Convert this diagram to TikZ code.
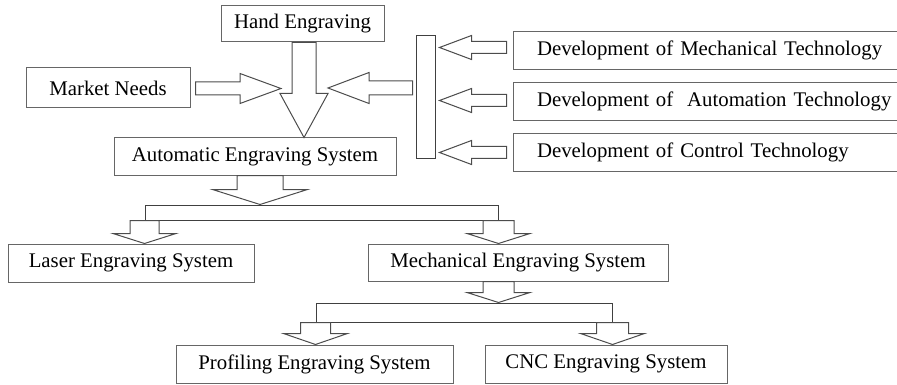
\documentclass[tikz,border=0pt]{standalone}
\usepackage{fontspec}
\setmainfont{Liberation Serif}
\usetikzlibrary{calc}

% block arrow going down from #1 to the height of #2
\newcommand{\downarr}[5]{%
  \draw[blk] let \p1=(#1), \p2=(#2) in
    ({\x1-#3*0.75pt},\y1) -- ({\x1-#3*0.75pt},{\y2-#5*0.75pt}) -- ({\x1-#4*0.75pt},{\y2-#5*0.75pt}) -- (\x1,\y2)
    -- ({\x1+#4*0.75pt},{\y2-#5*0.75pt}) -- ({\x1+#3*0.75pt},{\y2-#5*0.75pt}) -- ({\x1+#3*0.75pt},\y1) -- cycle;}
% block arrow going sideways from #1 to #2 (head length signed)
\newcommand{\sidearr}[5]{%
  \draw[blk] let \p1=(#1), \p2=(#2) in
    (\x1,{\y2-#3*0.75pt}) -- ({\x2-#5*0.75pt},{\y2-#3*0.75pt}) -- ({\x2-#5*0.75pt},{\y2-#4*0.75pt}) -- (\x2,\y2)
    -- ({\x2-#5*0.75pt},{\y2+#4*0.75pt}) -- ({\x2-#5*0.75pt},{\y2+#3*0.75pt}) -- (\x1,{\y2+#3*0.75pt}) -- cycle;}

\begin{document}
\begin{tikzpicture}[x=0.75pt,y=0.75pt,yscale=-1,xscale=1,
    box/.style={draw=black!60, line width=0.75pt, inner sep=0pt, font=\fontsize{15.6}{18}\selectfont},
    devbox/.style={box, inner xsep=18pt, text width=300pt, align=left, minimum height=38*0.75pt},
    barbox/.style={draw=black!75, line width=0.75pt, inner sep=0pt},
    blk/.style={draw=black!70, line width=0.75pt, line join=miter}]
\useasboundingbox (0,0) rectangle (897,385);
\clip (0,0) rectangle (897,385);

\node[box, minimum width=163*0.75pt, minimum height=36*0.75pt] (hand) at (302.5,24) {Hand Engraving};
\node[box, minimum width=164*0.75pt, minimum height=40*0.75pt] (market) at (108,88) {Market Needs};
\node[box, minimum width=282*0.75pt, minimum height=37*0.75pt] (auto) at (255,156.5) {Automatic Engraving System};
\node[barbox, minimum width=19*0.75pt, minimum height=123*0.75pt] (bar) at (425.5,97.5) {};
\node[devbox] (dev1) at (737,50.5) {Development of Mechanical Technology};
\node[devbox] (dev2) at (737,101.5) {Development of\ \ Automation Technology};
\node[devbox] (dev3) at (737,152.5) {Development of Control Technology};
\node[barbox, minimum width=353*0.75pt, minimum height=15*0.75pt] (hbar1) at (321.5,212.5) {};
\node[box, minimum width=246*0.75pt, minimum height=38*0.75pt] (laser) at (131,263) {Laser Engraving System};
\node[box, minimum width=300*0.75pt, minimum height=37*0.75pt] (mech) at (518,262.5) {Mechanical Engraving System};
\node[barbox, minimum width=296*0.75pt, minimum height=19*0.75pt] (hbar2) at (464,312.5) {};
\node[box, minimum width=277*0.75pt, minimum height=38*0.75pt] (prof) at (314.5,364) {Profiling Engraving System};
\node[box, minimum width=242*0.75pt, minimum height=38*0.75pt] (cnc) at (606,364) {CNC Engraving System};

\coordinate (tipL) at (281,88.5);
\coordinate (tipR) at (328,88);
\coordinate (barin) at ($(bar.west |- tipR)+(-3,0)$);
\coordinate (tip1) at ($(bar.east |- dev1.west)+(4,-3)$);
\coordinate (tip2) at ($(bar.east |- dev2.west)+(4,-1)$);
\coordinate (tip3) at ($(bar.east |- dev3.west)+(4,0)$);

\downarr{[xshift=1.125pt]hand.south}{auto.north}{12}{24}{44}
\sidearr{[xshift=3.75pt]market.east}{tipL}{6.5}{15}{41}
\sidearr{barin}{tipR}{7}{15.5}{-41}
\sidearr{[xshift=-4.5pt]dev1.west}{tip1}{6}{12}{-32}
\sidearr{[xshift=-4.5pt]dev2.west}{tip2}{6}{12}{-32}
\sidearr{[xshift=-4.5pt]dev3.west}{tip3}{6}{12}{-32}
\downarr{[xshift=3.75pt]auto.south}{hbar1.north}{23}{47.5}{15}
\downarr{hbar1.south west}{laser.north}{14.5}{31.5}{10}
\downarr{hbar1.south east}{mech.north}{15.5}{31.5}{10}
\downarr{hbar1.south east |- mech.south}{hbar2.north}{15.5}{31.5}{10}
\downarr{hbar2.south west}{prof.north}{15}{32}{11}
\downarr{hbar2.south east}{cnc.north}{16}{32}{11}
\end{tikzpicture}
\end{document}
